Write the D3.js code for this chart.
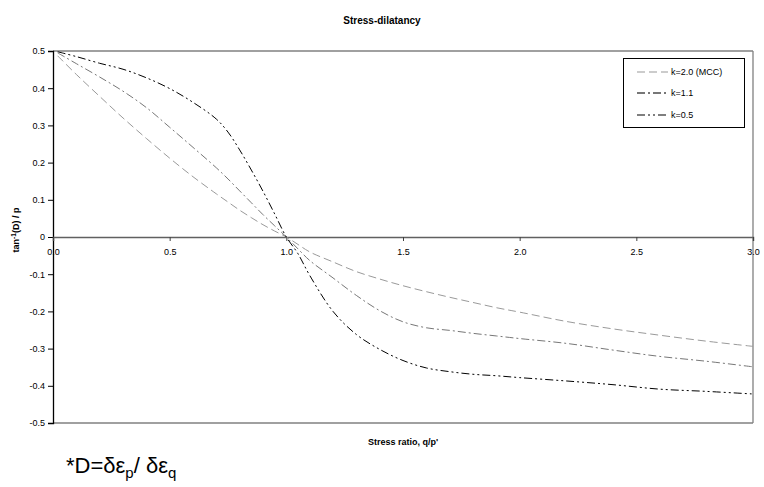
<!DOCTYPE html>
<html><head><meta charset="utf-8">
<script src="https://cdn.jsdelivr.net/npm/d3@7/dist/d3.min.js"></script>
<style>
body{margin:0;background:#fff;}
svg{display:block;font-family:"Liberation Sans",Arial,sans-serif;}
</style></head>
<body><svg id="c" width="764" height="487"></svg>
<script>
const xValues = [0.02,0.1,0.2,0.3,0.4,0.5,0.6,0.7,0.75,0.8,0.85,0.9,0.95,1.0,1.05,1.1,1.2,1.3,1.4,1.5,1.6,1.7,1.8,1.9,2.0,2.2,2.4,2.6,2.8,3.0];
const mcc  = [0.487,0.437,0.378,0.320,0.265,0.212,0.162,0.116,0.094,0.072,0.052,0.033,0.016,0,-0.020,-0.040,-0.067,-0.093,-0.113,-0.131,-0.147,-0.162,-0.176,-0.190,-0.202,-0.227,-0.247,-0.264,-0.280,-0.294];
const k11  = [0.495,0.466,0.430,0.392,0.348,0.295,0.241,0.186,0.156,0.124,0.092,0.060,0.030,0,-0.032,-0.063,-0.110,-0.157,-0.198,-0.228,-0.244,-0.251,-0.259,-0.266,-0.273,-0.286,-0.304,-0.321,-0.334,-0.349];
const k05  = [0.498,0.485,0.467,0.451,0.428,0.399,0.362,0.317,0.282,0.234,0.180,0.123,0.062,0,-0.045,-0.103,-0.200,-0.262,-0.302,-0.332,-0.352,-0.362,-0.369,-0.373,-0.378,-0.387,-0.397,-0.409,-0.415,-0.422];
const seriesNames = ["k=2.0 (MCC)","k=1.1","k=0.5"];
const xTicks = [0,0.5,1.0,1.5,2.0,2.5,3.0];
const xTickLabels = ["0.0","0.5","1.0","1.5","2.0","2.5","3.0"];
const yTicks = [0.5,0.4,0.3,0.2,0.1,0,-0.1,-0.2,-0.3,-0.4,-0.5];
const yTickLabels = ["0.5","0.4","0.3","0.2","0.1","0","-0.1","-0.2","-0.3","-0.4","-0.5"];

const styles = [
  {stroke:"#9a9a9a", width:1, dash:"8,4"},
  {stroke:"#777777", width:1, dash:"8,3,2,3"},
  {stroke:"#000000", width:1, dash:"8,3,2,3,2,3"}
];
const allSeries = [mcc,k11,k05];

const svg = d3.select("#c");
const L=53,R=753,T=51,B=423;
const x = d3.scaleLinear().domain([0,3]).range([L,R]);
const y = d3.scaleLinear().domain([-0.5,0.5]).range([B,T]);

// plot frame
svg.append("line").attr("x1",L).attr("x2",R).attr("y1",T).attr("y2",T).attr("stroke","#808080").attr("stroke-width",1.3);
svg.append("line").attr("x1",R).attr("x2",R).attr("y1",T).attr("y2",B).attr("stroke","#808080").attr("stroke-width",1.3);
svg.append("line").attr("x1",L).attr("x2",R).attr("y1",B).attr("y2",B).attr("stroke","#808080").attr("stroke-width",1.3);

// y axis
const yAxis = d3.axisLeft(y).tickValues(yTicks).tickSize(5).tickPadding(3)
  .tickFormat((d,i)=>yTickLabels[i]);
const gy = svg.append("g").attr("transform",`translate(${L},0)`).call(yAxis);
gy.select(".domain").attr("stroke","#000").attr("stroke-width",1.3);
gy.selectAll(".tick line").attr("stroke","#000");
gy.selectAll("text").attr("font-size",9).attr("font-family","Liberation Sans, Arial, sans-serif").attr("fill","#000");

// x axis at zero
const xAxis = d3.axisBottom(x).tickValues(xTicks).tickSize(4).tickPadding(8)
  .tickFormat((d,i)=>xTickLabels[i]);
const gx = svg.append("g").attr("transform",`translate(0,${y(0)})`).call(xAxis);
gx.select(".domain").attr("stroke","#606060").attr("stroke-width",1.5);
gx.selectAll(".tick line").attr("stroke","#404040");
gx.selectAll("text").attr("font-size",9).attr("font-family","Liberation Sans, Arial, sans-serif").attr("fill","#000");

// lines
const line = d3.line().x(d=>x(d[0])).y(d=>y(d[1])).curve(d3.curveCatmullRom.alpha(0.5));
allSeries.forEach((s,i)=>{
  svg.append("path").datum(xValues.map((xv,j)=>[xv,s[j]]))
    .attr("d",line).attr("fill","none")
    .attr("stroke",styles[i].stroke).attr("stroke-width",styles[i].width)
    .attr("stroke-dasharray",styles[i].dash);
});

// legend
const lg = svg.append("g");
lg.append("rect").attr("x",623.5).attr("y",58.5).attr("width",121).attr("height",69)
  .attr("fill","#fff").attr("stroke","#000").attr("stroke-width",1);
const ly = [72,93,115];
seriesNames.forEach((n,i)=>{
  lg.append("line").attr("x1",637).attr("x2",668).attr("y1",ly[i]).attr("y2",ly[i])
    .attr("stroke",styles[i].stroke).attr("stroke-width",i===1?2:1.1)
    .attr("stroke-dasharray",styles[i].dash);
  lg.append("text").attr("x",671).attr("y",ly[i]).attr("dy","0.35em")
    .attr("font-size",9).text(n);
});

// title
svg.append("text").attr("x",382).attr("y",24).attr("text-anchor","middle")
  .attr("font-size",10).attr("font-weight","bold").text("Stress-dilatancy");

// x label
svg.append("text").attr("x",403).attr("y",445).attr("text-anchor","middle")
  .attr("font-size",9).attr("font-weight","bold").text("Stress ratio, q/p'");

// y label
const yl = svg.append("text").attr("transform","translate(19,230) rotate(-90)")
  .attr("text-anchor","middle").attr("font-size",9).attr("font-weight","bold");
yl.append("tspan").text("tan");
yl.append("tspan").attr("dy",-3).attr("font-size",6.5).text("-1");
yl.append("tspan").attr("dy",3).text("(D) / p");

// footnote
const fn = svg.append("text").attr("x",66).attr("y",473).attr("font-size",22);
fn.append("tspan").text("*D=δε");
fn.append("tspan").attr("dy",5).attr("font-size",15).text("p");
fn.append("tspan").attr("dy",-5).text("/ δε");
fn.append("tspan").attr("dy",5).attr("font-size",15).text("q");
</script></body></html>
